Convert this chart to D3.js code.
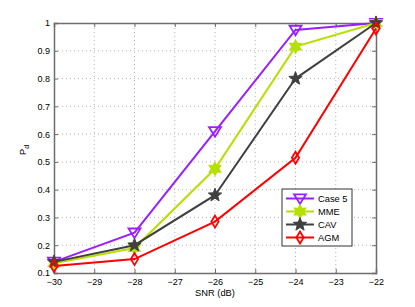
<!DOCTYPE html>
<html lang="en">
<head>
<meta charset="utf-8">
<title>Pd vs SNR</title>
<script src="https://cdnjs.cloudflare.com/ajax/libs/d3/7.8.5/d3.min.js"></script>
<style>
body { margin: 0; background: #fff; }
.axis text { font-family: "Liberation Sans", Arial, sans-serif; font-size: 9px; fill: #000; }
.axis path, .axis line { stroke: #6e6e6e; }
.grid line { stroke: #b4b4b4; stroke-dasharray: 1,3; stroke-width: 1; }
.lbl { font-family: "Liberation Sans", Arial, sans-serif; font-size: 9.3px; }
</style>
</head>
<body>
<div id="chart"></div>
<script>
const w = 415, h = 307;
const m = {left: 54, right: 39, top: 23, bottom: 34};

const snr = [-30, -28, -26, -24, -22];
const case5 = [0.14, 0.245, 0.61, 0.975, 1.0];
const mme = [0.135, 0.19, 0.475, 0.915, 1.0];
const cav = [0.14, 0.2, 0.38, 0.8, 1.0];
const agm = [0.125, 0.15, 0.285, 0.515, 0.98];
const xTicks = [-30, -29, -28, -27, -26, -25, -24, -23, -22];
const yTicks = [0.1, 0.2, 0.3, 0.4, 0.5, 0.6, 0.7, 0.8, 0.9, 1];

const series = [
  {name: "Case 5", values: case5, color: "#9a1fff", marker: "tri"},
  {name: "MME", values: mme, color: "#b5e000", marker: "hex"},
  {name: "CAV", values: cav, color: "#404040", marker: "star"},
  {name: "AGM", values: agm, color: "#ff0000", marker: "dia"}
];

const x = d3.scaleLinear().domain([-30, -22]).range([m.left, w - m.right]);
const y = d3.scaleLinear().domain([0.1, 1]).range([h - m.bottom, m.top]);

const svg = d3.select("#chart").append("svg").attr("width", w).attr("height", h);

// grid
const grid = svg.append("g").attr("class", "grid");
grid.selectAll(".gx").data(xTicks.slice(1, -1)).enter().append("line")
  .attr("x1", d => x(d)).attr("x2", d => x(d)).attr("y1", y(0.1)).attr("y2", y(1));
grid.selectAll(".gy").data(yTicks.slice(1, -1)).enter().append("line")
  .attr("x1", x(-30)).attr("x2", x(-22)).attr("y1", d => y(d)).attr("y2", d => y(d));

// axes
const fmt = d => d < 0 ? "\u2212" + Math.abs(d) : String(d);
svg.append("g").attr("class", "axis")
  .attr("transform", "translate(0," + (h - m.bottom) + ")")
  .call(d3.axisBottom(x).tickValues(xTicks).tickSize(-4).tickPadding(6).tickFormat(fmt))
  .call(g => g.select(".domain").attr("stroke-width", 1.5));
svg.append("g").attr("class", "axis")
  .attr("transform", "translate(" + m.left + ",0)")
  .call(d3.axisLeft(y).tickValues(yTicks).tickSize(-4).tickPadding(4).tickFormat(d3.format("~g")))
  .call(g => g.select(".domain").attr("stroke-width", 1.5));
svg.append("g").attr("class", "axis")
  .attr("transform", "translate(0," + m.top + ")")
  .call(d3.axisTop(x).tickValues(xTicks).tickSize(-4).tickFormat(""))
  .call(g => g.select(".domain").attr("stroke-width", 1.5));
svg.append("g").attr("class", "axis")
  .attr("transform", "translate(" + (w - m.right) + ",0)")
  .call(d3.axisRight(y).tickValues(yTicks).tickSize(-4).tickFormat(""))
  .call(g => g.select(".domain").attr("stroke-width", 1.5));

// markers
function markerPath(type, s) {
  if (type === "tri") {
    return "M" + (-s) + "," + (-s * 0.7) + "L" + s + "," + (-s * 0.7) + "L0," + (s * 0.9) + "Z";
  }
  if (type === "dia") {
    return "M0," + (-s) + "L" + (s * 0.6) + ",0L0," + s + "L" + (-s * 0.6) + ",0Z";
  }
  let n = type === "star" ? 5 : 6, inner = type === "star" ? 0.42 : 0.55;
  let p = "";
  for (let i = 0; i < n * 2; i++) {
    const r = i % 2 === 0 ? s : s * inner;
    const a = Math.PI / n * i - Math.PI / 2;
    p += (i ? "L" : "M") + (r * Math.cos(a)).toFixed(2) + "," + (r * Math.sin(a)).toFixed(2);
  }
  return p + "Z";
}
const open = t => t === "tri" || t === "dia";

const line = d3.line().x((d, i) => x(snr[i])).y(d => y(d));

series.forEach(s => {
  svg.append("path").datum(s.values).attr("d", line)
    .attr("fill", "none").attr("stroke", s.color).attr("stroke-width", 2);
  svg.selectAll(null).data(s.values).enter().append("path")
    .attr("transform", (d, i) => "translate(" + x(snr[i]) + "," + y(d) + ")")
    .attr("d", markerPath(s.marker, s.marker === "star" ? 7 : 6))
    .attr("fill", open(s.marker) ? "none" : s.color)
    .attr("stroke", s.color).attr("stroke-width", s.marker === "star" ? 1 : 1.8);
});

// legend
const lg = svg.append("g").attr("transform", "translate(282,189)");
lg.append("rect").attr("width", 70).attr("height", 57)
  .attr("fill", "#fff").attr("stroke", "#333").attr("stroke-width", 1);
series.forEach((s, i) => {
  const ly = 9.5 + i * 13;
  lg.append("line").attr("x1", 4).attr("x2", 32).attr("y1", ly).attr("y2", ly)
    .attr("stroke", s.color).attr("stroke-width", 2);
  lg.append("path").attr("transform", "translate(18," + ly + ")")
    .attr("d", markerPath(s.marker, s.marker === "star" ? 7 : 6))
    .attr("fill", open(s.marker) ? "none" : s.color)
    .attr("stroke", s.color).attr("stroke-width", s.marker === "star" ? 1 : 1.8);
  lg.append("text").attr("class", "lbl").attr("x", 36).attr("y", ly + 3.5).text(s.name);
});

// axis labels
svg.append("text").attr("class", "lbl").attr("x", (m.left + w - m.right) / 2).attr("y", 296)
  .attr("text-anchor", "middle").text("SNR (dB)");
const yl = svg.append("text").attr("class", "lbl")
  .attr("transform", "translate(26,150) rotate(-90)").attr("text-anchor", "middle");
yl.append("tspan").text("P");
yl.append("tspan").attr("dy", 3).attr("font-size", 7).text("d");
</script>
</body>
</html>
